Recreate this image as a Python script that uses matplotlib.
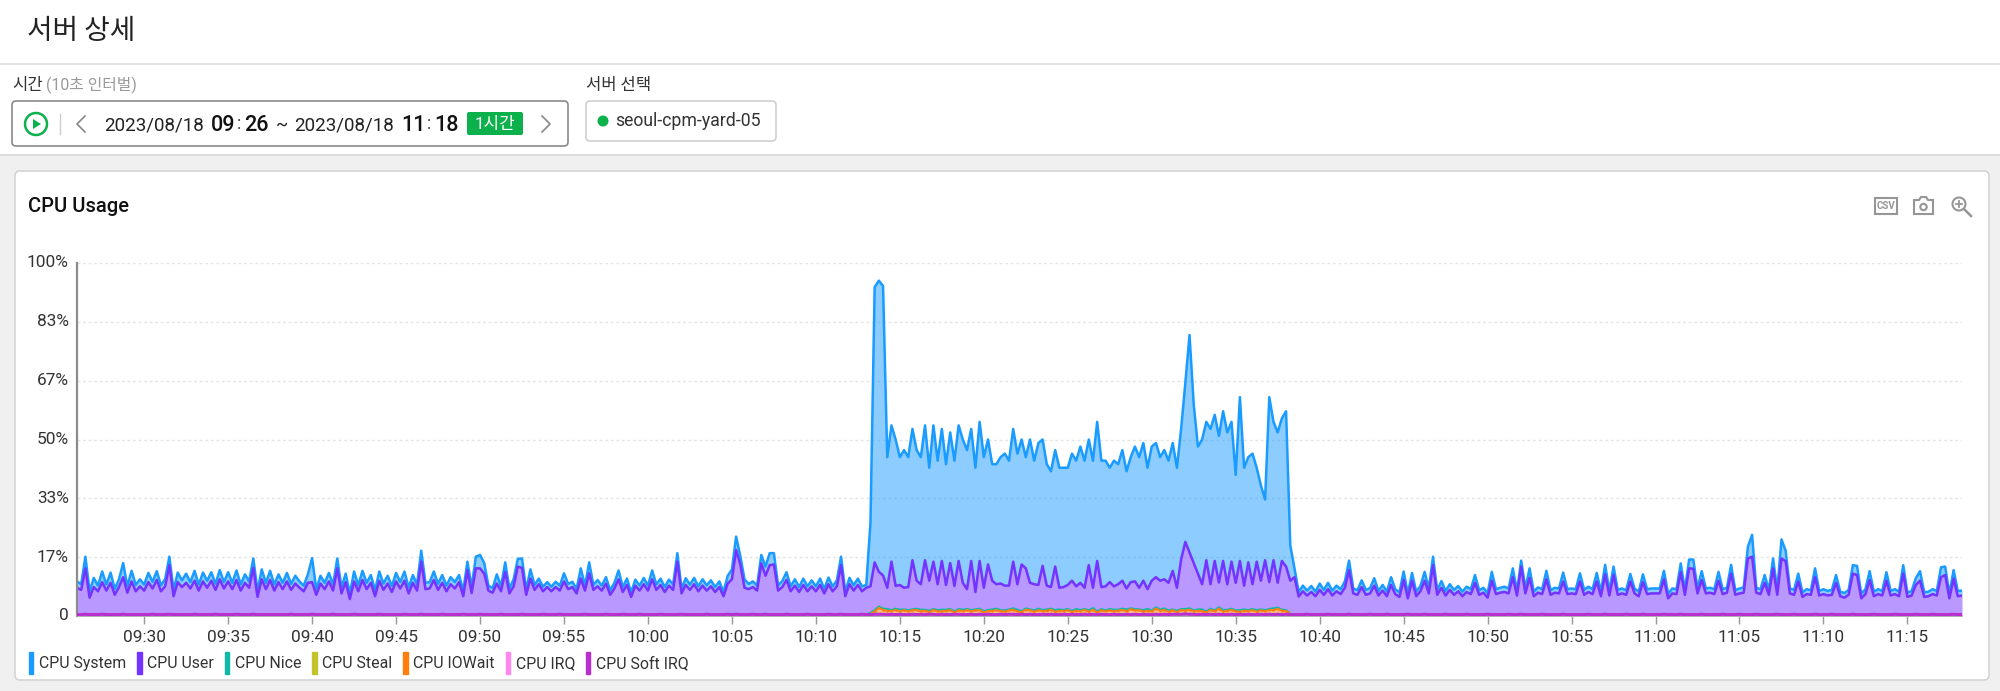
import numpy as np
import pandas as pd
import matplotlib
matplotlib.use("Agg")
import matplotlib.pyplot as plt
import matplotlib.dates as mdates
from matplotlib.patches import Rectangle, FancyBboxPatch, Circle, Polygon, Patch
from matplotlib.transforms import ScaledTranslation

plt.rcParams['font.family'] = ['Roboto', 'Noto Sans CJK KR', 'DejaVu Sans']

# one row = 4 minutes, samples every 15 s
# cpu_user is the height of the purple line, cpu_system is the blue band on top of it
cpu_user = [
    8.0,7.4,13.5,5.2,8.2,7.0,9.6,7.2,9.4,6.0,8.2,11.0,6.6,9.8,7.0,8.4,
    7.2,9.6,7.8,10.2,7.0,8.4,14.4,5.6,9.6,8.2,9.4,7.8,10.0,7.2,9.8,8.0,
    10.0,7.4,10.4,7.8,9.8,7.6,10.2,7.2,9.4,8.0,13.6,5.4,10.4,7.6,10.2,7.2,
    9.6,7.6,9.8,7.4,9.2,8.0,7.0,9.4,9.6,6.0,9.2,7.6,9.8,7.2,13.5,6.4,
    9.6,4.8,9.8,7.0,10.2,7.6,9.4,5.6,10.0,7.4,9.2,6.8,9.8,7.8,10.0,6.4,
    9.4,7.2,15.4,7.6,7.8,10.2,7.4,9.4,7.0,9.0,7.8,9.6,5.6,13.0,6.5,13.5,
    13.5,12.0,7.2,6.6,9.2,7.0,12.5,6.4,8.4,14.0,13.6,6.0,10.6,7.4,9.0,7.0,
    8.2,7.0,8.2,7.2,9.8,7.6,8.2,6.4,10.6,7.2,12.1,7.4,8.4,7.2,9.2,6.0,
    7.8,10.4,6.8,8.8,5.4,8.6,7.2,9.0,7.2,10.4,7.4,8.8,6.8,8.6,7.4,15.4,
    6.4,8.8,7.4,9.0,7.0,8.6,7.2,8.4,6.8,8.2,5.6,9.2,10.4,18.7,14.6,8.0,
    7.6,8.2,7.2,14.9,11.4,14.4,14.6,7.2,8.2,10.2,7.0,8.6,6.8,8.8,7.0,8.4,
    7.0,8.8,6.4,9.0,7.0,8.4,14.4,5.6,9.0,7.2,8.8,7.0,8.0,8.4,15.2,12.5,
    11.5,8.0,15.4,8.5,8.8,8.0,8.2,15.8,10.0,9.0,15.8,10.0,15.4,9.0,15.6,8.8,
    15.0,8.5,15.6,9.4,7.6,15.6,6.8,15.6,8.0,14.6,10.0,9.0,9.2,8.6,8.6,15.4,
    9.0,14.6,13.5,9.4,9.0,8.8,14.2,8.6,8.2,14.0,8.0,8.2,8.8,10.0,8.4,9.4,
    8.0,14.4,8.0,15.6,8.2,8.4,9.6,8.4,9.0,10.0,7.8,9.6,9.8,8.0,10.0,7.6,
    10.0,11.0,10.0,10.4,9.4,12.8,8.0,16.0,21.0,18.0,15.0,12.0,9.0,15.8,9.0,15.6,
    9.5,15.6,9.0,15.4,9.4,15.6,8.6,15.2,9.0,15.4,10.0,15.8,9.6,15.8,9.4,15.6,
    14.0,10.0,11.0,5.5,7.0,5.8,6.8,5.6,7.4,6.0,7.6,5.8,7.0,6.2,8.0,13.0,
    6.4,6.0,8.2,6.0,6.4,8.6,5.8,7.2,5.6,8.8,6.2,5.4,10.2,5.0,10.0,5.6,
    7.0,10.0,6.4,14.4,6.0,8.0,5.8,7.4,6.0,7.0,5.6,6.8,6.2,9.4,6.0,6.6,
    5.2,10.0,6.2,6.6,6.8,6.4,11.0,5.8,14.0,6.4,10.8,5.6,6.6,6.2,10.4,6.0,
    6.6,6.4,9.8,6.2,6.4,6.2,9.8,6.0,6.8,6.2,9.8,5.6,11.8,5.8,11.6,6.0,
    6.4,6.0,9.8,6.4,5.6,9.6,6.2,6.4,6.4,6.4,10.4,5.0,6.4,6.2,12.4,6.0,
    13.5,13.4,6.4,10.2,6.4,6.6,6.2,10.0,6.2,6.6,12.0,6.0,6.4,6.6,16.3,16.8,
    6.6,6.2,9.4,6.0,13.5,6.0,16.3,15.5,6.4,6.0,9.8,5.4,6.2,6.0,11.0,5.8,
    6.2,5.8,6.0,9.4,5.6,5.2,6.0,12.0,11.6,5.0,6.2,10.2,5.6,6.2,5.8,10.0,
    5.8,6.2,5.6,12.0,5.4,5.8,8.8,10.0,5.4,5.6,6.2,5.8,11.0,11.6,5.0,10.6,
    5.6,5.8,
]
cpu_system = [
    1.8,1.6,3.3,1.8,2.6,1.6,3.0,1.7,2.9,1.7,2.2,4.0,1.8,3.0,1.8,2.0,
    1.7,2.6,1.9,2.5,1.7,2.1,2.4,1.7,2.7,1.9,2.6,1.8,2.8,1.7,2.5,2.0,
    2.4,1.7,2.6,1.8,2.6,1.8,2.7,1.7,2.4,1.8,2.7,1.7,2.8,1.8,2.6,1.7,
    2.2,1.8,2.4,1.7,2.2,1.8,1.6,2.4,6.8,1.6,2.2,1.8,2.4,1.7,2.8,1.6,
    2.4,1.6,2.8,1.7,2.6,1.8,2.2,1.7,2.6,1.8,2.2,1.7,2.4,1.8,2.6,1.7,
    2.2,1.7,3.1,1.8,1.8,2.4,1.7,2.2,1.6,2.0,1.8,2.0,1.6,2.4,1.7,3.3,
    3.8,3.0,1.4,1.3,2.6,1.4,2.7,1.4,2.0,2.2,2.7,1.4,2.6,1.4,1.6,1.3,
    1.4,1.3,1.5,1.4,2.3,1.5,1.5,1.3,2.9,1.4,3.1,1.4,1.8,1.4,1.8,1.3,
    1.6,2.5,1.4,1.8,1.3,1.7,1.4,1.8,1.4,2.5,1.5,1.8,1.4,1.7,1.5,2.4,
    1.3,1.9,1.5,1.8,1.4,1.8,1.5,1.7,1.4,1.6,1.3,2.2,2.8,3.8,2.4,2.4,
    1.5,1.6,1.4,2.4,2.6,3.4,3.2,1.5,1.7,2.2,1.4,1.8,1.4,1.8,1.4,1.7,
    1.4,1.8,1.3,1.9,1.4,1.7,2.4,1.3,1.8,1.5,1.8,1.4,0.8,18.0,78.0,82.5,
    82.0,37.0,38.6,41.5,36.2,39.0,36.8,37.2,37.0,36.0,38.2,32.0,38.6,35.0,37.4,34.2,
    37.0,35.5,38.4,40.6,39.4,37.4,35.2,39.4,37.0,35.4,33.0,34.0,35.8,37.4,35.4,37.6,
    37.0,35.4,31.5,40.6,35.0,40.2,35.8,34.4,32.8,33.0,34.0,33.8,33.2,36.0,35.6,38.6,
    36.0,35.6,36.0,39.4,35.8,35.6,32.4,35.6,34.0,37.0,33.2,35.4,38.2,37.0,39.0,34.4,
    38.0,38.0,35.0,36.6,34.6,36.2,34.0,37.0,45.0,61.6,45.0,36.0,41.0,39.2,44.0,41.4,
    41.5,42.4,43.0,39.6,30.6,46.4,33.4,29.8,37.0,26.6,27.0,17.2,52.4,39.2,42.6,40.4,
    44.0,10.0,2.5,1.3,1.6,1.4,1.7,1.3,1.8,1.4,1.8,1.4,1.6,1.4,1.8,2.7,
    1.4,1.3,1.9,1.4,1.5,2.1,1.3,1.6,1.3,2.2,1.4,1.3,2.4,1.3,2.2,1.3,
    1.5,2.5,1.4,2.4,1.3,1.9,1.3,1.6,1.4,1.5,1.3,1.5,1.4,2.2,1.3,1.4,
    1.3,2.5,1.4,1.4,1.5,1.4,2.5,1.3,1.7,1.4,2.7,1.3,1.5,1.4,2.4,1.3,
    1.4,1.4,2.5,1.4,1.4,1.4,2.3,1.4,1.5,1.4,2.4,1.3,2.7,1.3,2.4,1.4,
    1.4,1.3,2.1,1.4,1.3,2.2,1.4,1.4,1.4,1.4,2.4,1.3,1.4,1.4,2.5,1.4,
    2.5,2.6,1.4,2.5,1.4,1.4,1.4,2.5,1.4,1.4,2.5,1.3,1.4,1.5,3.3,6.2,
    1.4,1.4,2.2,1.3,2.8,1.3,5.4,3.0,1.4,1.4,2.2,1.3,1.4,1.3,2.5,1.3,
    1.4,1.3,1.4,2.2,1.3,1.3,1.4,2.4,2.6,1.3,1.4,2.5,1.3,1.4,1.3,2.4,
    1.3,1.4,1.3,2.4,1.2,1.3,1.9,2.7,1.3,1.3,1.4,1.3,2.8,2.4,1.2,2.4,
    1.5,1.4,
]
cpu_soft_irq = [
    .4,.4,.5,.4,.4,.4,.5,.4,.4,.4,.4,.5,.4,.4,.4,.4,
    .4,.4,.5,.4,.4,.4,.5,.4,.4,.4,.4,.4,.5,.4,.4,.4,
    .4,.5,.4,.4,.4,.4,.5,.4,.4,.4,.5,.4,.4,.4,.4,.4,
    .4,.4,.4,.5,.4,.4,.4,.4,.5,.4,.4,.4,.4,.5,.4,.4,
    .4,.4,.5,.4,.4,.4,.4,.4,.5,.4,.4,.4,.4,.4,.5,.4,
    .4,.4,.5,.4,.4,.4,.4,.5,.4,.4,.4,.4,.5,.4,.4,.4,
    .5,.4,.4,.4,.4,.5,.4,.4,.4,.4,.5,.4,.4,.4,.4,.5,
    .4,.4,.4,.5,.4,.4,.4,.4,.4,.5,.4,.4,.4,.4,.5,.4,
    .4,.4,.5,.4,.4,.4,.5,.4,.4,.4,.4,.5,.4,.4,.4,.4,
    .5,.4,.4,.4,.4,.4,.5,.4,.4,.4,.4,.5,.4,.5,.4,.4,
    .4,.5,.4,.4,.5,.4,.4,.4,.4,.5,.4,.4,.4,.4,.5,.4,
    .4,.4,.4,.5,.4,.4,.5,.4,.4,.4,.4,.5,.4,.4,.5,.5,
    .5,.4,.5,.4,.5,.4,.4,.5,.4,.5,.4,.5,.5,.4,.5,.4,
    .4,.5,.5,.4,.4,.5,.4,.5,.4,.5,.4,.4,.5,.4,.5,.5,
    .4,.5,.4,.5,.4,.4,.5,.4,.5,.4,.4,.5,.4,.5,.4,.4,
    .5,.4,.5,.4,.5,.4,.4,.5,.4,.4,.5,.4,.5,.4,.5,.4,
    .4,.5,.4,.5,.4,.5,.5,.5,.6,.5,.5,.4,.5,.4,.5,.4,
    .5,.4,.4,.5,.4,.5,.4,.5,.4,.4,.5,.4,.5,.4,.5,.4,
    .5,.4,.4,.4,.4,.5,.4,.4,.4,.4,.5,.4,.4,.4,.4,.5,
    .4,.4,.4,.4,.5,.4,.4,.4,.5,.4,.4,.4,.4,.5,.4,.4,
    .4,.5,.4,.4,.4,.4,.5,.4,.4,.4,.4,.5,.4,.4,.4,.4,
    .5,.4,.4,.4,.4,.5,.4,.4,.5,.4,.4,.4,.4,.5,.4,.4,
    .4,.4,.5,.4,.4,.4,.4,.4,.5,.4,.4,.4,.5,.4,.4,.4,
    .4,.5,.4,.4,.4,.5,.4,.4,.4,.4,.5,.4,.4,.4,.5,.4,
    .4,.4,.4,.5,.4,.4,.4,.4,.5,.4,.4,.4,.5,.4,.4,.4,
    .5,.4,.4,.4,.4,.5,.4,.4,.4,.5,.4,.4,.4,.4,.5,.4,
    .4,.4,.5,.4,.4,.4,.4,.5,.4,.4,.4,.4,.5,.4,.4,.4,
    .4,.5,.4,.4,.4,.4,.5,.4,.4,.4,.5,.4,.4,.4,.4,.5,
    .4,.4,
]
cpu_iowait = [
    0,0,0,0,.2,0,0,0,0,0,0,.2,0,0,0,0,
    0,0,0,0,0,.2,0,0,0,0,0,0,0,0,0,0,
    0,0,0,0,.2,0,0,0,0,0,0,0,0,0,0,0,
    0,0,0,0,0,0,0,.2,0,0,0,0,0,0,0,0,
    0,0,0,0,0,0,0,0,0,.2,0,0,0,0,0,0,
    0,0,0,0,0,0,0,0,0,0,.2,0,0,0,0,0,
    0,.2,0,0,0,0,0,0,.2,0,0,0,0,0,.2,0,
    0,0,0,.2,0,0,0,0,.2,0,0,.2,0,0,.2,0,
    0,.2,0,0,.2,0,0,0,0,.2,0,0,0,.2,0,0,
    0,0,.2,0,0,0,.2,0,0,0,0,0,.2,0,0,0,
    0,.2,0,0,0,0,.2,0,0,0,0,.2,0,0,0,0,
    .2,0,0,0,.2,0,0,0,0,0,.2,0,0,.2,.8,1.8,
    1.2,1.1,.9,1.3,.8,1.2,.9,1.1,1.3,.8,1.1,.6,1.2,.9,.8,1.1,
    1.2,.5,1.1,.9,1.3,.8,1.2,1.1,.6,.9,1.1,1.2,.9,.8,1.1,1.3,
    .9,.6,1.4,1.1,.8,1.2,.9,1.1,1.3,.8,1.1,.9,1.2,.7,1.1,.9,
    1.2,.8,1.3,.6,1.1,.9,1.2,.8,1.1,1.3,.9,1.5,1.1,1.2,.8,1.1,
    .9,1.6,1.1,1.2,.8,1.1,.6,1.2,.9,1.3,.8,1.1,.9,.6,1.2,.9,
    1.6,.8,1.1,1.2,.9,.7,1.1,.9,1.2,.8,1.1,.9,1.2,1.3,1.5,1.1,
    .9,.2,0,0,0,0,.2,0,0,0,0,.2,0,0,0,.2,
    0,0,0,.2,0,0,0,0,.2,0,0,0,0,0,.2,0,
    0,.2,0,0,0,0,.2,0,0,0,0,0,0,.2,0,0,
    .2,0,0,0,.2,0,0,0,0,0,.2,0,0,0,0,.2,
    0,0,.2,0,0,0,0,.2,0,0,0,0,.2,0,0,0,
    0,.2,0,0,0,.2,0,0,0,.2,0,0,.2,0,0,0,
    .2,0,0,0,.2,0,0,0,.2,0,0,.2,0,0,0,.2,
    0,0,.2,0,0,.2,0,0,0,.2,0,0,0,.2,0,0,
    .2,0,0,0,.2,0,0,.2,0,0,0,0,.2,0,0,.2,
    0,0,.2,0,0,0,.2,0,0,.2,0,0,.2,0,0,0,
    .2,0,
]
cpu_nice = [
    *[0] * 188,
    .1,.3,.4,.4,
    .4,.5,.3,.4,.5,.3,.4,.3,.4,.5,.3,.4,.3,.4,.5,.3,
    .4,.3,.4,.5,.3,.4,.3,.5,.4,.3,.4,.5,.3,.4,.3,.4,
    .5,.3,.4,.3,.4,.5,.3,.4,.3,.5,.4,.3,.4,.3,.5,.4,
    .3,.4,.5,.3,.4,.3,.4,.5,.3,.4,.5,.3,.4,.3,.4,.5,
    .3,.4,.3,.5,.4,.3,.4,.3,.5,.4,.3,.4,.5,.3,.4,.3,
    .4,.5,.3,.4,.3,.5,.4,.3,.4,.5,.3,.4,.3,.5,.4,.3,
    .3,.1,
    *[0] * 160,
]
cpu_irq = [0] * len(cpu_user)
cpu_steal = [0] * len(cpu_user)

y_ticks = [0, 100 / 6, 200 / 6, 50, 400 / 6, 500 / 6, 100]
y_labels = ['0', '17%', '33%', '50%', '67%', '83%', '100%']
legend_labels = ['CPU System', 'CPU User', 'CPU Nice', 'CPU Steal', 'CPU IOWait', 'CPU IRQ', 'CPU Soft IRQ']
legend_colors = ['#1a9bff', '#7433ff', '#10b8aa', '#c2c22b', '#ff7f0e', '#ff88ee', '#b82ecf']

W, H = 2000, 691
GREEN = '#0cb14b'
times = pd.date_range('2023-08-18 09:26:00', periods=len(cpu_user), freq='15s')

fig = plt.figure(figsize=(W / 100, H / 100), dpi=100, facecolor='white')

# page chrome is drawn in pixel coordinates
bg = fig.add_axes([0, 0, 1, 1], zorder=0)
bg.set_xlim(0, W)
bg.set_ylim(H, 0)
bg.axis('off')
bg.add_patch(Rectangle((0, 155), W, H - 155, fc='#f0f0f0', ec='none'))
bg.plot([0, W], [64, 64], color='#dedede', lw=1.2)
bg.plot([0, W], [155, 155], color='#d8d8d8', lw=1.2)
bg.add_patch(FancyBboxPatch((15, 171), 1974, 509, boxstyle='round,pad=0,rounding_size=5',
                            fc='white', ec='#d4d4d4', lw=1.2))

bg.text(27, 31, '서버 상세', fontsize=20, color='#222222', va='center', family='Noto Sans CJK KR')
bg.text(12, 85, '시간', fontsize=12, color='#333333', va='center', family='Noto Sans CJK KR')
bg.text(46, 85, '(10초 인터벌)', fontsize=11.4, color='#999999', va='center', family=['Roboto', 'Noto Sans CJK KR'])
bg.text(586, 85, '서버 선택', fontsize=12, color='#333333', va='center', family='Noto Sans CJK KR')

# time range box
bg.add_patch(FancyBboxPatch((12, 101), 556, 45, boxstyle='round,pad=0,rounding_size=4',
                            fc='white', ec='#8a8a8a', lw=1.2))
bg.add_patch(Circle((36, 124), 11, fc='white', ec=GREEN, lw=1.8))
bg.add_patch(Polygon([[33, 119], [33, 129], [41, 124]], fc=GREEN, ec='none'))
bg.plot([60, 60], [114, 134], color='#cccccc', lw=1)
bg.plot([85, 77, 85], [116, 124, 132], color='#888888', lw=1.2)
bg.plot([542, 550, 542], [116, 124, 132], color='#888888', lw=1.2)
bg.text(104, 125, '2023/08/18', fontsize=13.5, color='#222222', va='center')
bg.text(211, 125, '09', fontsize=15.5, color='#111111', va='center', fontweight='medium')
bg.text(237, 124, ':', fontsize=13, color='#444444', va='center')
bg.text(244, 125, '26', fontsize=15.5, color='#111111', va='center', fontweight='medium')
bg.text(276, 125, '~', fontsize=13, color='#222222', va='center')
bg.text(294, 125, '2023/08/18', fontsize=13.5, color='#222222', va='center')
bg.text(401, 125, '11', fontsize=15.5, color='#111111', va='center', fontweight='medium')
bg.text(427, 124, ':', fontsize=13, color='#444444', va='center')
bg.text(434, 125, '18', fontsize=15.5, color='#111111', va='center', fontweight='medium')
bg.add_patch(FancyBboxPatch((467, 112), 56, 23, boxstyle='round,pad=0,rounding_size=2', fc=GREEN, ec='none'))
bg.text(495, 124, '1시간', fontsize=12.2, color='white', va='center', ha='center',
        family=['Roboto', 'Noto Sans CJK KR'])

# server box
bg.add_patch(FancyBboxPatch((586, 101), 190, 40, boxstyle='round,pad=0,rounding_size=4',
                            fc='white', ec='#cfcfcf', lw=1.2))
bg.add_patch(Circle((603, 121), 5.5, fc=GREEN, ec='none'))
bg.text(615, 121, 'seoul-cpm-yard-05', fontsize=12.7, color='#333333', va='center')

bg.text(28, 206, 'CPU Usage', fontsize=14.5, color='#111111', va='center', fontweight='medium')

# toolbar icons
ICON = '#969696'
bg.add_patch(Rectangle((1875, 198), 22, 16, fc='white', ec=ICON, lw=1.5))
bg.text(1886, 206, 'CSV', fontsize=7, color=ICON, ha='center', va='center', fontweight='bold')
bg.add_patch(Polygon([[1914, 200], [1919, 200], [1921, 197], [1926, 197], [1928, 200], [1933, 200],
                      [1933, 214], [1914, 214]], fc='white', ec=ICON, lw=1.5))
bg.add_patch(Circle((1923.5, 207), 3.2, fc='white', ec=ICON, lw=1.5))
bg.add_patch(Circle((1959, 204), 6.5, fc='white', ec=ICON, lw=1.5))
bg.plot([1964, 1971], [209, 216], color=ICON, lw=1.8)
bg.plot([1956, 1962], [204, 204], color=ICON, lw=1.3)
bg.plot([1959, 1959], [201, 207], color=ICON, lw=1.3)

# the chart itself
ax = fig.add_axes([77 / W, (H - 616) / H, (1962 - 77) / W, (616 - 263) / H], zorder=1)
ax.patch.set_alpha(0)

soft = np.array(cpu_soft_irq, dtype=float)
irq_top = soft + np.array(cpu_irq)
io_top = irq_top + np.array(cpu_iowait)
steal_top = io_top + np.array(cpu_steal)
nice_top = steal_top + np.array(cpu_nice)
user_top = np.array(cpu_user)
system_top = user_top + np.array(cpu_system)

ax.fill_between(times, user_top, system_top, color='#1a9bff', alpha=0.5, lw=0)
ax.fill_between(times, nice_top, user_top, color='#7433ff', alpha=0.5, lw=0)
ax.fill_between(times, io_top, nice_top, color='#10b8aa', alpha=0.5, lw=0)
ax.fill_between(times, irq_top, io_top, color='#ff7f0e', alpha=0.5, lw=0)
ax.fill_between(times, 0, soft, color='#b82ecf', alpha=0.5, lw=0)

ax.plot(times, system_top, color='#1a9bff', lw=1.8, solid_joinstyle='round')
ax.plot(times, user_top, color='#7433ff', lw=1.8, solid_joinstyle='round')
loaded = np.array(cpu_nice) > 0
ax.plot(times, np.where(loaded, nice_top, np.nan), color='#10b8aa', lw=1.4)
ax.plot(times, np.where(np.array(cpu_iowait) > 0, io_top, np.nan), color='#ff7f0e', lw=1.4, marker='.', ms=1.5)
ax.plot(times, soft, color='#b82ecf', lw=2.2, zorder=3)

ax.set_xlim(times[0], times[-1])
ax.set_ylim(0, 100)
ax.set_yticks(y_ticks)
ax.set_yticklabels(y_labels)
ax.xaxis.set_major_locator(mdates.MinuteLocator(byminute=range(0, 60, 5)))
ax.xaxis.set_major_formatter(mdates.DateFormatter('%H:%M'))
ax.tick_params(axis='x', length=6, width=1, color='#999999', labelsize=12.4, labelcolor='#333333', pad=4)
ax.tick_params(axis='y', length=0, labelsize=12.4, labelcolor='#333333', pad=6)
for lbl in ax.get_yticklabels():
    lbl.set_transform(lbl.get_transform() + ScaledTranslation(0, 1.2 / 72, fig.dpi_scale_trans))
ax.grid(axis='y', color='#e4e4e4', lw=1, ls=(0, (2, 2)))
ax.set_axisbelow(True)
for side in ['top', 'right']:
    ax.spines[side].set_visible(False)
ax.spines['left'].set_color('#8c8c8c')
ax.spines['left'].set_linewidth(1.6)
ax.spines['bottom'].set_color('#a8a8a8')
ax.spines['bottom'].set_linewidth(1.2)

handles = [Patch(color=c, label=l) for c, l in zip(legend_colors, legend_labels)]
fig.legend(handles=handles, ncol=7, frameon=False, loc='center left',
           bbox_to_anchor=(29 / W, (H - 663) / H), fontsize=11.4, labelcolor='#333333',
           handlelength=0.28, handleheight=1.7, handletextpad=0.36, columnspacing=0.68,
           borderpad=0, borderaxespad=0)

fig.savefig('out.png', dpi=100)
